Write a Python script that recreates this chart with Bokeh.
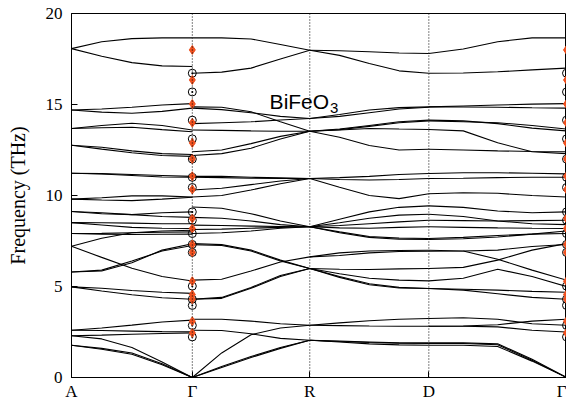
from bokeh.plotting import figure
from bokeh.models import FixedTicker, Label, Span, Range1d
from bokeh.embed import file_html
from bokeh.resources import INLINE

# high-symmetry path
k_points = [0.0, 1.0, 1.9725, 2.958, 4.0975]
k_labels = ["A", "Γ", "R", "D", "Γ"]
fracs = [0.0, 0.25, 0.5, 0.75, 1.0]

# band frequencies (THz) sampled along each segment
ag_bands = [
    [18.07, 18.45, 18.62, 18.66, 18.66],
    [18.07, 17.65, 17.30, 17.12, 17.09],
    [14.70, 14.75, 14.85, 14.97, 15.05],
    [14.70, 14.58, 14.52, 14.62, 14.80],
    [13.68, 13.85, 13.97, 13.85, 13.60],
    [13.68, 13.72, 13.75, 13.62, 13.50],
    [12.76, 12.65, 12.45, 12.30, 12.25],
    [12.76, 12.55, 12.35, 12.20, 12.15],
    [11.22, 11.20, 11.15, 11.10, 11.05],
    [11.22, 11.18, 11.10, 11.02, 11.00],
    [9.80, 9.88, 9.98, 9.98, 9.92],
    [9.80, 9.75, 9.72, 9.80, 9.90],
    [9.12, 9.00, 8.95, 9.05, 9.10],
    [9.12, 9.05, 8.95, 8.85, 8.80],
    [8.51, 8.50, 8.48, 8.45, 8.45],
    [8.51, 8.38, 8.25, 8.20, 8.19],
    [7.91, 7.92, 7.95, 7.98, 8.00],
    [7.91, 7.88, 7.86, 7.87, 7.88],
    [7.21, 7.65, 7.95, 8.05, 8.09],
    [7.21, 6.60, 6.00, 5.55, 5.30],
    [5.80, 5.85, 6.30, 7.00, 7.35],
    [5.80, 5.90, 6.40, 6.95, 7.25],
    [4.98, 4.90, 4.78, 4.68, 4.62],
    [4.98, 4.75, 4.55, 4.38, 4.30],
    [2.60, 2.72, 2.88, 3.05, 3.15],
    [2.60, 2.58, 2.55, 2.52, 2.51],
    [2.29, 2.33, 2.38, 2.42, 2.45],
    [2.29, 2.12, 1.65, 0.85, 0.00],
    [1.77, 1.60, 1.35, 0.75, 0.00],
    [1.77, 1.55, 1.28, 0.70, 0.00],
]

gr_bands = [
    [18.66, 18.66, 18.60, 18.30, 17.98],
    [16.72, 16.78, 17.00, 17.50, 17.98],
    [14.87, 14.85, 14.60, 14.05, 13.53],
    [14.80, 14.72, 14.55, 14.35, 14.23],
    [13.95, 14.00, 14.05, 14.15, 14.23],
    [13.60, 13.58, 13.55, 13.53, 13.53],
    [12.40, 12.50, 12.85, 13.25, 13.53],
    [12.20, 12.30, 12.60, 13.10, 13.53],
    [11.05, 11.05, 11.00, 10.97, 10.93],
    [11.00, 10.98, 10.95, 10.93, 10.93],
    [9.92, 10.00, 10.30, 10.65, 10.93],
    [10.30, 10.40, 10.60, 10.80, 10.93],
    [9.37, 9.30, 9.00, 8.60, 8.28],
    [8.80, 8.75, 8.60, 8.40, 8.28],
    [8.37, 8.35, 8.32, 8.30, 8.28],
    [8.13, 8.15, 8.20, 8.25, 8.28],
    [7.91, 7.95, 8.05, 8.20, 8.28],
    [7.36, 7.30, 7.00, 6.45, 5.99],
    [7.30, 7.25, 6.95, 6.40, 5.99],
    [5.35, 5.40, 5.85, 6.35, 6.63],
    [4.30, 4.35, 4.90, 5.55, 5.99],
    [4.30, 4.40, 4.95, 5.60, 5.99],
    [3.20, 3.20, 3.10, 2.95, 2.87],
    [2.60, 2.58, 2.40, 2.15, 2.05],
    [0.00, 0.60, 1.15, 1.65, 2.05],
    [0.00, 0.55, 1.10, 1.60, 2.05],
    [0.00, 1.35, 2.35, 2.72, 2.87],
]

rd_bands = [
    [17.98, 17.95, 17.90, 17.83, 17.80],
    [17.98, 17.70, 17.25, 16.85, 16.72],
    [14.23, 14.45, 14.70, 14.83, 14.87],
    [14.23, 14.35, 14.55, 14.75, 14.85],
    [13.53, 13.65, 13.85, 14.05, 14.14],
    [13.53, 13.62, 13.80, 14.00, 14.10],
    [13.53, 13.60, 13.68, 13.65, 13.63],
    [13.53, 13.20, 12.75, 12.50, 12.54],
    [10.93, 10.98, 11.05, 11.15, 11.21],
    [10.93, 10.88, 10.85, 10.88, 10.93],
    [10.93, 10.45, 10.00, 9.83, 10.10],
    [8.28, 8.70, 9.10, 9.35, 9.43],
    [8.28, 8.50, 8.75, 8.92, 8.97],
    [8.28, 8.35, 8.45, 8.55, 8.64],
    [8.28, 8.22, 8.20, 8.25, 8.28],
    [8.28, 8.00, 7.75, 7.66, 7.64],
    [8.28, 7.95, 7.70, 7.60, 7.58],
    [6.63, 6.85, 6.95, 6.98, 6.99],
    [6.63, 6.70, 6.85, 6.92, 6.94],
    [5.99, 5.95, 5.93, 5.97, 5.99],
    [5.99, 5.70, 5.45, 5.35, 5.31],
    [5.99, 5.55, 5.15, 4.95, 4.89],
    [5.99, 5.50, 5.10, 4.92, 4.89],
    [2.87, 3.00, 3.12, 3.20, 3.24],
    [2.87, 2.85, 2.83, 2.82, 2.82],
    [2.05, 1.98, 1.92, 1.88, 1.87],
    [2.05, 1.95, 1.85, 1.79, 1.77],
    [2.05, 2.00, 1.95, 1.90, 1.90],
]

dg_bands = [
    [17.80, 18.05, 18.45, 18.66, 18.66],
    [16.72, 16.73, 16.80, 16.90, 17.00],
    [14.87, 14.92, 14.97, 15.02, 15.05],
    [14.87, 14.86, 14.85, 14.82, 14.80],
    [14.14, 14.10, 13.95, 13.70, 13.55],
    [14.10, 14.05, 14.00, 13.85, 13.65],
    [13.63, 13.55, 12.90, 12.40, 12.30],
    [12.54, 12.50, 12.45, 12.42, 12.40],
    [11.21, 11.25, 11.25, 11.22, 11.19],
    [10.93, 10.95, 10.98, 11.00, 11.00],
    [10.10, 10.15, 10.12, 10.00, 9.92],
    [9.43, 9.35, 9.15, 9.05, 9.10],
    [8.97, 8.85, 8.60, 8.45, 8.40],
    [8.64, 8.62, 8.60, 8.62, 8.64],
    [8.28, 8.25, 8.22, 8.20, 8.19],
    [7.64, 7.70, 7.80, 7.88, 7.91],
    [7.58, 7.62, 7.72, 7.88, 8.05],
    [6.99, 6.95, 6.50, 5.90, 5.35],
    [6.94, 6.95, 7.00, 7.20, 7.31],
    [5.99, 6.05, 6.45, 7.00, 7.36],
    [5.31, 5.45, 5.95, 5.55, 5.00],
    [4.89, 4.85, 4.80, 4.73, 4.68],
    [4.89, 4.80, 4.60, 4.40, 4.30],
    [3.24, 3.28, 3.20, 2.95, 2.87],
    [2.82, 2.83, 2.90, 3.10, 3.20],
    [2.82, 2.82, 2.78, 2.60, 2.50],
    [1.90, 1.90, 1.85, 1.00, 0.00],
    [1.87, 1.87, 1.80, 0.95, 0.00],
    [1.77, 1.77, 1.70, 0.90, 0.00],
]

# modes at Gamma
gamma_orange = [18.0, 16.35, 15.03, 14.0, 12.89, 12.01, 11.06, 10.33, 8.74, 8.19,
                7.31, 6.87, 5.29, 4.56, 4.30, 3.09, 2.45]
gamma_open = [16.72, 15.69, 14.14, 13.11, 12.0, 11.0, 10.44, 9.10, 8.64, 7.91,
              7.31, 6.87, 5.02, 4.30, 3.96, 2.86, 2.23]

p = figure(width=566, height=404, x_range=Range1d(k_points[0], k_points[-1]),
           y_range=Range1d(0, 20), output_backend="svg", toolbar_location=None,
           min_border_left=71, min_border_right=0, min_border_top=13, min_border_bottom=27)
p.grid.visible = False
p.outline_line_color = "black"
p.outline_line_width = 1
p.background_fill_color = "white"
p.border_fill_color = "white"

segments = [ag_bands, gr_bands, rd_bands, dg_bands]
xs, ys = [], []
for i, seg in enumerate(segments):
    k0, k1 = k_points[i], k_points[i + 1]
    kx = [k0 + f * (k1 - k0) for f in fracs]
    for band in seg:
        xs.append(kx)
        ys.append(band)
p.multi_line(xs, ys, line_color="black", line_width=1.1)

for kx in k_points[1:4]:
    p.add_layout(Span(location=kx, dimension="height", line_color="black",
                      line_width=1, line_dash="1 2"))

for kg in (k_points[1], k_points[4]):
    p.scatter([kg] * len(gamma_open), gamma_open, marker="circle_dot", size=8,
              fill_color=None, line_color="black", line_width=1)
    p.scatter([kg] * len(gamma_orange), gamma_orange, marker="diamond", size=9,
              fill_color="#f0501e", line_color="#f0501e")

serif = "Liberation Serif"
p.xaxis.ticker = FixedTicker(ticks=k_points)
p.xaxis.major_label_overrides = {k: lab for k, lab in zip(k_points, k_labels)}
p.yaxis.ticker = FixedTicker(ticks=[0, 5, 10, 15, 20])
for ax in (p.xaxis[0], p.yaxis[0]):
    ax.major_tick_in = 6
    ax.major_tick_out = 0
    ax.minor_tick_line_color = None
    ax.axis_line_color = "black"
    ax.major_tick_line_color = "black"
    ax.major_label_text_font = serif
    ax.major_label_text_font_size = "17px"
    ax.major_label_text_color = "black"
p.xaxis.major_label_standoff = 4
p.yaxis.major_label_standoff = 9
p.yaxis.axis_label = "Frequency (THz)"
p.yaxis.axis_label_text_font = serif
p.yaxis.axis_label_text_font_size = "20px"
p.yaxis.axis_label_text_font_style = "normal"
p.yaxis.axis_label_standoff = 14
p.yaxis.axis_label_text_color = "black"

p.add_layout(Label(x=1.64, y=15.18, text="BiFeO", text_font="Liberation Sans",
                   text_font_size="21px", text_baseline="alphabetic", text_color="black"))
p.add_layout(Label(x=2.139, y=14.83, text="3", text_font="Liberation Sans",
                   text_font_size="15px", text_baseline="alphabetic", text_color="black"))

open("out.html", "w").write(file_html(p, INLINE))
